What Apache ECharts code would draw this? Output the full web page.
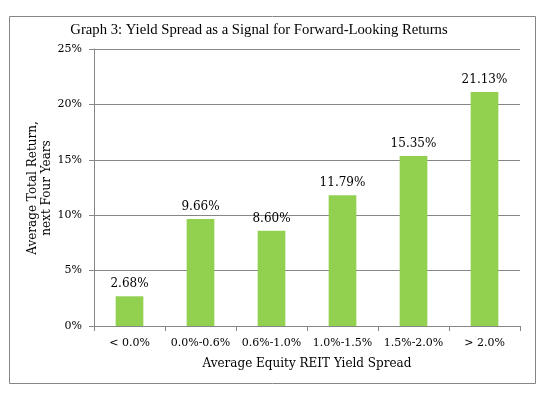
<!DOCTYPE html>
<html><head><meta charset="utf-8">
<script src="https://cdn.jsdelivr.net/npm/echarts@6/dist/echarts.min.js"></script>
<style>html,body{margin:0;padding:0;background:#fff}#c{width:546px;height:393px}</style>
</head><body><div id="c"></div>
<script>
const categories = ['< 0.0%', '0.0%-0.6%', '0.6%-1.0%', '1.0%-1.5%', '1.5%-2.0%', '> 2.0%'];
const returns = [2.68, 9.66, 8.60, 11.79, 15.35, 21.13];
const yTicks = [0, 5, 10, 15, 20, 25];
const FONT = 'DejaVu Serif';
const chart = echarts.init(document.getElementById('c'), null, {renderer: 'canvas'});
chart.setOption({
  animation: false,
  backgroundColor: '#fff',
  title: {
    text: 'Graph 3: Yield Spread as a Signal for Forward-Looking Returns',
    left: 254, top: 18, textAlign: 'center',
    textStyle: {fontFamily: 'Liberation Serif', fontSize: 14.7, fontWeight: 'normal', color: '#000'}
  },
  graphic: [{
    type: 'rect', shape: {x: 9.5, y: 16.5, width: 526, height: 367},
    style: {fill: null, stroke: '#868686', lineWidth: 1}, silent: true
  }, {
    type: 'text', x: 40, y: 188, rotation: Math.PI / 2, silent: true,
    style: {text: 'Average Total Return,\nnext Four Years', align: 'center', verticalAlign: 'middle',
      textAlign: 'center', textVerticalAlign: 'middle', lineHeight: 14,
      font: '12px "DejaVu Serif"', fill: '#000'}
  }],
  grid: {left: 94, right: 26, top: 49, bottom: 67},
  xAxis: {
    type: 'category', data: categories,
    name: 'Average Equity REIT Yield Spread', nameLocation: 'middle', nameGap: 32,
    nameTextStyle: {fontFamily: FONT, fontSize: 12, color: '#000'},
    axisLine: {lineStyle: {color: '#868686'}},
    axisTick: {show: true, length: 5, lineStyle: {color: '#868686'}},
    axisLabel: {fontFamily: FONT, fontSize: 11, color: '#000', margin: 12, interval: 0}
  },
  yAxis: {
    type: 'value', min: yTicks[0], max: yTicks[yTicks.length - 1], interval: 5,
    axisLine: {show: true, lineStyle: {color: '#868686'}},
    axisTick: {show: true, length: 5, lineStyle: {color: '#868686'}},
    axisLabel: {formatter: '{value}%', fontFamily: FONT, fontSize: 11, color: '#000', margin: 12},
    splitLine: {lineStyle: {color: '#868686'}}
  },
  series: [{
    type: 'bar', data: returns, barWidth: '39%',
    itemStyle: {color: '#92D050'},
    label: {show: true, position: 'top', distance: 6, formatter: p => p.value.toFixed(2) + '%',
      fontFamily: FONT, fontSize: 12, color: '#000'}
  }]
});
</script></body></html>
